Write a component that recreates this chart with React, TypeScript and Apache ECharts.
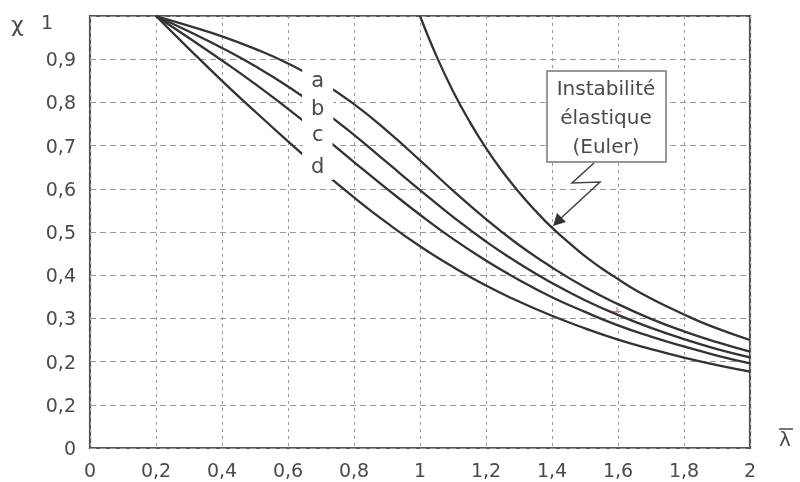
import React, { useEffect, useRef } from "react";
import * as echarts from "echarts";

const lambdaCurves = [0.2, 0.3, 0.4, 0.5, 0.6, 0.7, 0.8, 0.9, 1.0, 1.1, 1.2, 1.3, 1.4, 1.5, 1.6, 1.7, 1.8, 1.9, 2.0];
const curveA = [1.0, 0.977, 0.953, 0.924, 0.89, 0.848, 0.796, 0.734, 0.666, 0.596, 0.53, 0.47, 0.418, 0.372, 0.333, 0.299, 0.27, 0.245, 0.223];
const curveB = [1.0, 0.964, 0.926, 0.884, 0.837, 0.784, 0.725, 0.661, 0.597, 0.535, 0.478, 0.427, 0.382, 0.342, 0.308, 0.278, 0.252, 0.229, 0.21];
const curveC = [1.0, 0.949, 0.897, 0.843, 0.785, 0.725, 0.662, 0.6, 0.54, 0.484, 0.434, 0.389, 0.349, 0.315, 0.284, 0.258, 0.235, 0.214, 0.196];
const curveD = [1.0, 0.924, 0.85, 0.779, 0.71, 0.643, 0.58, 0.521, 0.467, 0.419, 0.376, 0.339, 0.306, 0.277, 0.251, 0.229, 0.209, 0.192, 0.177];
const lambdaEuler = [1.0, 1.05, 1.1, 1.15, 1.2, 1.25, 1.3, 1.35, 1.4, 1.45, 1.5, 1.55, 1.6, 1.65, 1.7, 1.75, 1.8, 1.85, 1.9, 1.95, 2.0];
const euler = [1.0, 0.907, 0.826, 0.756, 0.694, 0.64, 0.592, 0.549, 0.51, 0.476, 0.444, 0.416, 0.391, 0.367, 0.346, 0.327, 0.309, 0.292, 0.277, 0.263, 0.25];

const curveNames = ["a", "b", "c", "d"];
const curveLabelLambda = [0.69, 0.69, 0.69, 0.69];
const curveLabelChi = [0.852, 0.786, 0.728, 0.652];

const xTickLabels = ["0", "0,2", "0,4", "0,6", "0,8", "1", "1,2", "1,4", "1,6", "1,8", "2"];
const yTickLabels = ["0", "0,2", "0,2", "0,3", "0,4", "0,5", "0,6", "0,7", "0,8", "0,9", ""];

const FONT = "DejaVu Sans";
const LINE = "#333";
const TEXT = "#4a4a4a";

export default function App() {
  const ref = useRef<HTMLDivElement>(null);
  useEffect(() => {
    if (!ref.current) return;
    const chart = echarts.init(ref.current, undefined, { renderer: "svg" });
    const curves = [curveA, curveB, curveC, curveD];
    const series: any[] = curves.map((vals, i) => ({
      type: "line",
      name: curveNames[i],
      data: lambdaCurves.map((l, j) => [l, vals[j]]),
      smooth: true,
      showSymbol: false,
      lineStyle: { color: LINE, width: 2.3 },
      markPoint: {
        symbol: "rect",
        symbolSize: 0,
        data: [{ coord: [curveLabelLambda[i], curveLabelChi[i]], value: curveNames[i] }],
        label: {
          show: true,
          position: "inside",
          formatter: curveNames[i],
          fontFamily: FONT,
          fontSize: 21,
          color: TEXT,
          backgroundColor: "#fff",
          padding: [2, 9, 4, 9],
        },
      },
    }));
    series.push({
      type: "line",
      name: "Euler",
      data: lambdaEuler.map((l, j) => [l, euler[j]]),
      smooth: true,
      showSymbol: false,
      lineStyle: { color: LINE, width: 2.3 },
    });
    chart.setOption({
      animation: false,
      grid: {
        left: 90,
        right: 50,
        top: 16,
        bottom: 34,
        show: true,
        borderColor: "#555",
        borderWidth: 2.2,
        backgroundColor: "#fff",
      },
      xAxis: {
        type: "value",
        min: 0,
        max: 2,
        interval: 0.2,
        axisLine: { show: false },
        axisTick: { show: false },
        axisLabel: {
          margin: 12,
          fontFamily: FONT,
          fontSize: 19,
          color: TEXT,
          formatter: (v: number) => xTickLabels[Math.round(v / 0.2)] ?? "",
        },
        splitLine: { show: true, lineStyle: { color: "#999", type: [3, 4], width: 1 } },
      },
      yAxis: {
        type: "value",
        min: 0,
        max: 1,
        interval: 0.1,
        axisLine: { show: false },
        axisTick: { show: false },
        axisLabel: {
          margin: 14,
          fontFamily: FONT,
          fontSize: 19,
          color: TEXT,
          formatter: (v: number) => yTickLabels[Math.round(v * 10)] ?? "",
        },
        splitLine: { show: true, lineStyle: { color: "#999", type: [6, 4], width: 1 } },
      },
      series,
      graphic: [
        { type: "text", left: 11, top: 13, style: { text: "χ", fontFamily: FONT, fontSize: 22, fill: TEXT } },
        { type: "text", left: 41, top: 12, style: { text: "1", fontFamily: FONT, fontSize: 19, fill: TEXT } },
        { type: "text", left: 779, top: 429, style: { text: "λ", fontFamily: FONT, fontSize: 20, fill: TEXT } },
        { type: "line", shape: { x1: 779, y1: 429, x2: 793, y2: 429 }, style: { stroke: TEXT, lineWidth: 1.5 } },
        {
          type: "rect",
          shape: { x: 547, y: 71, width: 119, height: 91 },
          style: { fill: "#fff", stroke: "#777", lineWidth: 1.5 },
          z: 10,
        },
        {
          type: "text",
          x: 606,
          y: 117,
          z: 11,
          style: {
            text: "Instabilité\nélastique\n(Euler)",
            fontFamily: FONT,
            fontSize: 20,
            lineHeight: 29,
            fill: TEXT,
            align: "center",
            verticalAlign: "middle",
          },
        },
        {
          type: "polyline",
          z: 11,
          shape: { points: [[594, 163], [572, 183], [600, 182], [560, 219]] },
          style: { stroke: "#444", lineWidth: 1.5, fill: null },
        },
        {
          type: "polygon",
          z: 11,
          shape: { points: [[553, 226], [557, 213], [566, 222]] },
          style: { fill: "#333" },
        },
        { type: "text", left: 611, top: 304, style: { text: "+", fontFamily: FONT, fontSize: 14, fill: "#d88" } },
      ],
    });
    return () => chart.dispose();
  }, []);
  return <div ref={ref} style={{ position: "fixed", left: 0, top: 0, width: 800, height: 482 }} />;
}
